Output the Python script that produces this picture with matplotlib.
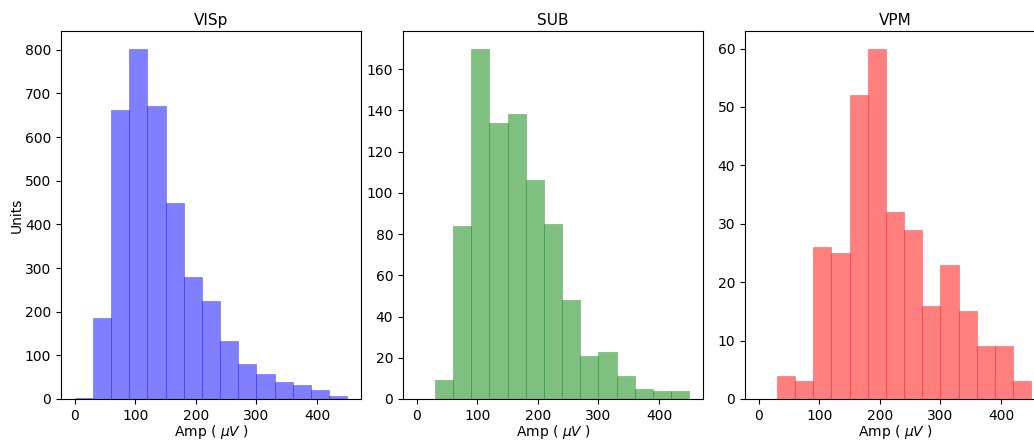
import matplotlib
matplotlib.use("Agg")
import matplotlib.pyplot as plt
import numpy as np

# bin edges every 30 uV, 0..450
bin_edges = np.arange(0, 451, 30)

regions = ["VISp", "SUB", "VPM"]
colors = ["b", "g", "r"]

visp_counts = [3, 185, 663, 803, 672, 450, 280, 225, 133, 80, 57, 39, 32, 21, 7]
sub_counts = [0, 9, 84, 170, 134, 138, 106, 85, 48, 21, 23, 11, 5, 4, 4]
vpm_counts = [0, 4, 3, 26, 25, 52, 60, 32, 29, 16, 23, 15, 9, 9, 3]

all_counts = [visp_counts, sub_counts, vpm_counts]

W, H = 1034, 441
fig = plt.figure(figsize=(W / 100, H / 100), dpi=100)

# axes placement in pixels (left, top, right, bottom); last panel runs off the edge
boxes = [(61, 31, 361, 399), (403, 31, 703, 399), (745, 31, 1045, 399)]

centers = (bin_edges[:-1] + bin_edges[1:]) / 2
for i, (name, col, counts) in enumerate(zip(regions, colors, all_counts)):
    l, t, r, b = boxes[i]
    ax = fig.add_axes([l / W, (H - b) / H, (r - l) / W, (b - t) / H])
    # thin same-colour edges give the darker seams between bars
    ax.hist(centers, bins=bin_edges, weights=counts, color=col, alpha=0.5,
            edgecolor=col, linewidth=0.4)
    ax.set_title(name, fontsize=11, pad=4)
    ax.set_xlabel(r"Amp ( $\mu V$ )", labelpad=0)
    ax.set_xticks([0, 100, 200, 300, 400])
    if i == 0:
        ax.set_ylabel("Units", labelpad=0.5)

fig.savefig("out.png", dpi=100)
